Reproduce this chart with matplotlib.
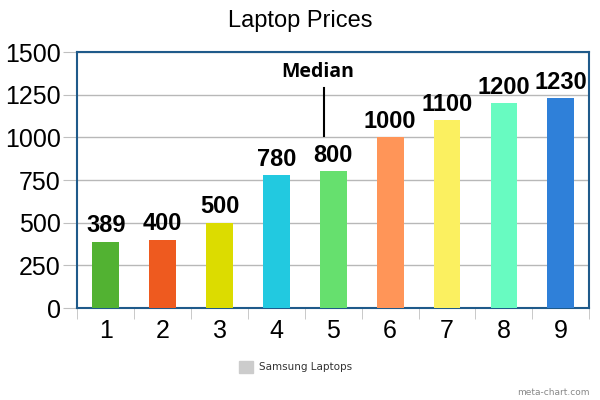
import numpy as np
import matplotlib.pyplot as plt
from matplotlib.patches import Rectangle

plt.rcParams['font.family'] = ['Liberation Sans', 'DejaVu Sans']

labels = ["1", "2", "3", "4", "5", "6", "7", "8", "9"]
prices = [389, 400, 500, 780, 800, 1000, 1100, 1200, 1230]
colors = ["#52b232", "#ee5a1f", "#dcdc00", "#22c9e0", "#66e06e",
          "#ff9558", "#fbf060", "#68fbc1", "#2f80d9"]
yticks = [0, 250, 500, 750, 1000, 1250, 1500]

fig = plt.figure(figsize=(6, 4), dpi=100)
ax = fig.add_axes([0.129, 0.23, 0.853, 0.64])

x = np.arange(len(prices))
ax.bar(x, prices, width=0.47, color=colors, zorder=3)
for xi, v in zip(x, prices):
    ax.text(xi, v + 25, str(v), ha="center", va="bottom",
            fontsize=17, fontweight="bold", zorder=4)

# median marker above bar 5
ax.plot([3.83, 3.83], [1008, 1289], color="black", lw=1.5, zorder=4)
ax.text(3.73, 1385, "Median", ha="center", va="center",
        fontsize=14, fontweight="bold", family="Open Sans")

ax.set_xlim(-0.5, len(prices) - 0.5)
ax.set_ylim(0, 1500)
ax.set_yticks(yticks)
ax.set_yticklabels([str(t) for t in yticks], fontsize=18)
ax.set_xticks(x)
ax.set_xticklabels(labels, fontsize=18)
ax.set_xticks(np.arange(-0.5, len(prices)), minor=True)
ax.tick_params(axis="x", which="major", length=0, pad=8)
ax.tick_params(axis="x", which="minor", length=8, color="#c0c0c0")
ax.tick_params(axis="y", length=10, color="#c0c0c0", pad=2)
ax.yaxis.grid(True, color="#b8b8b8", lw=1, zorder=0)

for s in ax.spines.values():
    s.set_color("#1f5a8a")
    s.set_linewidth(1.5)

fig.text(0.5, 0.948, "Laptop Prices", ha="center", va="center", fontsize=17)

fig.patches.append(Rectangle((0.398, 0.068), 0.024, 0.03, transform=fig.transFigure,
                             color="#cccccc", figure=fig))
fig.text(0.432, 0.082, "Samsung Laptops", ha="left", va="center",
         fontsize=7.5, color="#333333", family="DejaVu Sans")
fig.text(0.983, 0.018, "meta-chart.com", ha="right", va="center",
         fontsize=6.5, color="#888888", family="DejaVu Sans")

fig.savefig("out.png", dpi=100)
